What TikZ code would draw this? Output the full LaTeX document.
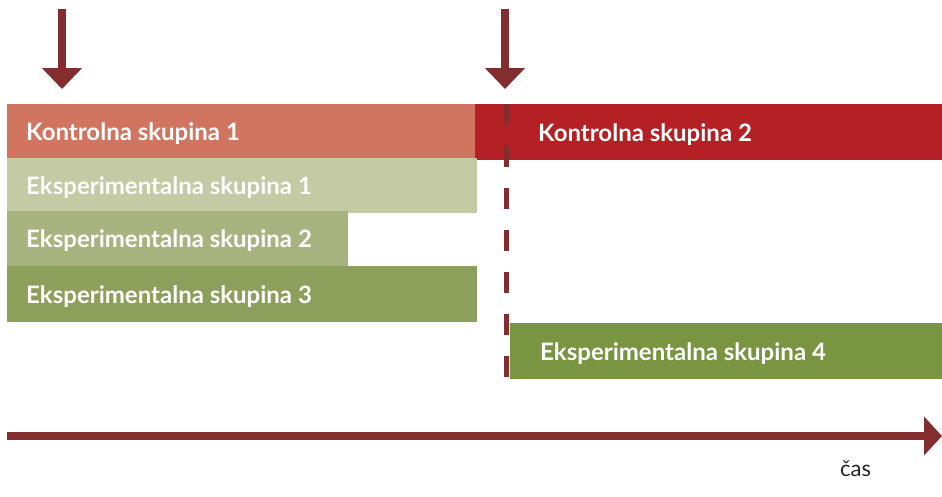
\documentclass[tikz,border=0pt]{standalone}
\usepackage{fontspec}
\setmainfont{Lato}
\usetikzlibrary{arrows.meta}
\definecolor{kone}{HTML}{D27560}
\definecolor{ktwo}{HTML}{B52024}
\definecolor{eone}{HTML}{C4CAA3}
\definecolor{etwo}{HTML}{A8B47F}
\definecolor{ethree}{HTML}{8CA05B}
\definecolor{efour}{HTML}{7A9542}
\definecolor{darkred}{HTML}{832D2F}
\tikzset{
  bar/.style={draw=none, inner sep=0, anchor=north west, minimum height=#1},
  bar/.default=55pt,
  lbl/.style={text=white, anchor=west, inner sep=0, yshift=-2pt, font=\fontsize{24}{28}\selectfont\bfseries},
  downarrow/.style={draw=darkred, line width=8pt, -{Triangle[width=39pt,length=21pt]}},
  timeline/.style={draw=darkred, line width=8pt, -{Triangle[width=38pt,length=18pt]}},
  divider/.style={draw=darkred, line width=5pt, dash pattern=on 21pt off 21pt}
}
\begin{document}
\begin{tikzpicture}[x=1pt,y=-1pt]
\useasboundingbox (0,0) rectangle (942,496);
% bars
\node[bar=54pt, fill=kone, minimum width=468pt] (k1) at (7,104) {};
\node[bar=56pt, fill=ktwo, minimum width=467pt] (k2) at (475,104) {};
\node[bar=55pt, fill=eone, minimum width=470pt] (e1) at (7,158) {};
\node[bar=55pt, fill=etwo, minimum width=341pt] (e2) at (7,211) {};
\node[bar=56pt, fill=ethree, minimum width=470pt] (e3) at (7,266) {};
\node[bar=56pt, fill=efour, minimum width=432pt] (e4) at (510,323) {};
% labels
\node[lbl] (l1) at ([xshift=19pt]k1.west) {Kontrolna skupina 1};
\node[lbl] (l2) at ([xshift=63pt]k2.west) {Kontrolna skupina 2};
\node[lbl] (l3) at ([xshift=19pt]e1.west) {Eksperimentalna skupina 1};
\node[lbl] (l4) at ([xshift=19pt]e2.west) {Eksperimentalna skupina 2};
\node[lbl] (l5) at ([xshift=19pt]e3.west) {Eksperimentalna skupina 3};
\node[lbl] (l6) at ([xshift=30pt]e4.west) {Eksperimentalna skupina 4};
% arrows
\coordinate (a1s) at (62,9);
\coordinate (a1e) at (62,89);
\coordinate (a2s) at (505,9);
\coordinate (a2e) at (505,89);
\draw[downarrow] (a1s) -- (a1e);
\draw[downarrow] (a2s) -- (a2e);
% divider
\coordinate (ds) at (506,104);
\coordinate (de) at (506,378);
\draw[divider] (ds) -- (de);
% timeline
\coordinate (ts) at (7,436);
\coordinate (te) at (942,436);
\draw[timeline] (ts) -- (te);
\node[anchor=base west, inner sep=0, text=black!85, font=\fontsize{22}{26}\selectfont] (cas) at (840,476) {čas};
\end{tikzpicture}
\end{document}
